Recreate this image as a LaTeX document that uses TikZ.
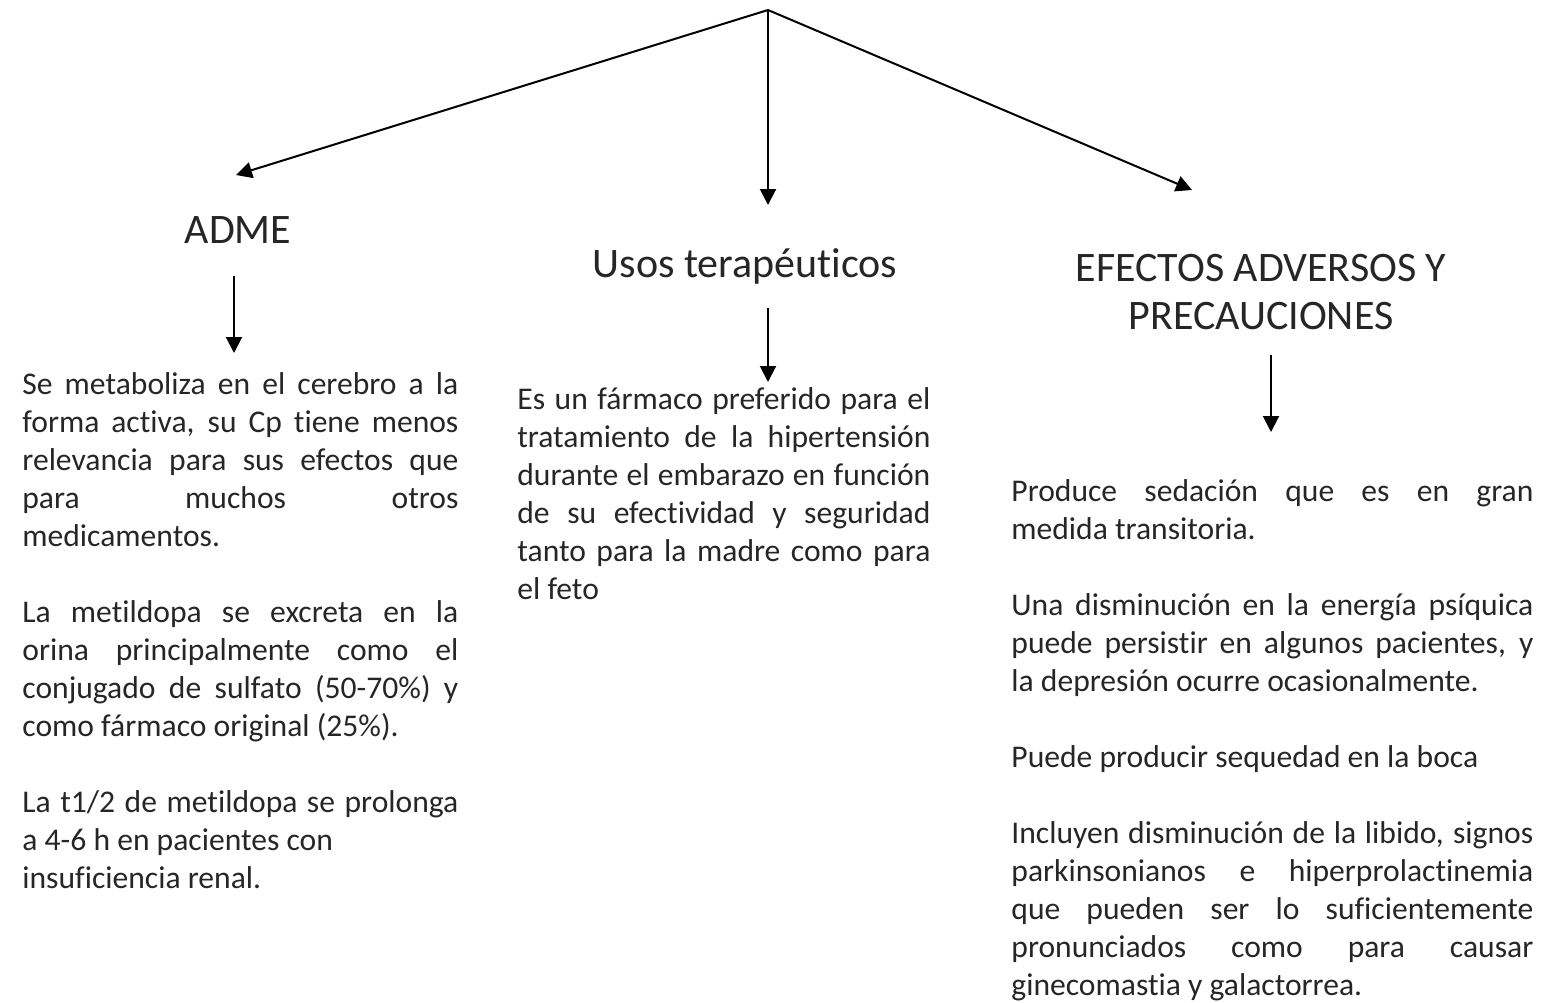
\documentclass[tikz,border=0pt]{standalone}
\usepackage{fontspec}
\setmainfont{Carlito}[Ligatures=NoCommon]
\usetikzlibrary{arrows.meta}
\tikzset{
  heading/.style={font=\fontsize{21}{24}\selectfont, align=center, inner sep=0pt, text=black!85},
  bodytext/.style={font=\fontsize{15.8}{19}\selectfont, align=justify, inner sep=0pt, anchor=north west, text=black!85},
  arr/.style={line width=1pt, -{Triangle[length=8pt,width=8pt]}}
}
\begin{document}
\begin{tikzpicture}[x=0.5pt,y=-0.5pt]
\useasboundingbox (0,0) rectangle (1541,1002);

% branch point and arrow tips
\coordinate (root) at (768,10);
\coordinate (admeTip) at (236,175);
\coordinate (usosTip) at (768,205);
\coordinate (efectosTip) at (1192,190);

% headings
\node[heading] (adme) at (238,230) {ADME};
\node[heading] (usos) at (745,266) {Usos terapéuticos};
\node[heading] (efectos) at (1261,292) {EFECTOS ADVERSOS Y\\PRECAUCIONES};

% text columns
\node[bodytext, text width=218pt] (admeTxt) at (22,372) {%
Se metaboliza en el cerebro a la\linebreak
forma activa, su Cp tiene menos\linebreak
relevancia para sus efectos que\linebreak
para muchos otros\linebreak
medicamentos.\\[19pt]
La metildopa se excreta en la\linebreak
orina principalmente como el\linebreak
conjugado de sulfato (50-70\%) y\linebreak
como fármaco original (25\%).\\[19pt]
La t1/2 de metildopa se prolonga\linebreak
a 4-6 h en pacientes con\\
insuficiencia renal.};

\node[bodytext, text width=206.5pt] (usosTxt) at (517,387) {%
Es un fármaco preferido para el\linebreak
tratamiento de la hipertensión\linebreak
durante el embarazo en función\linebreak
de su efectividad y seguridad\linebreak
tanto para la madre como para\linebreak
el feto};

\node[bodytext, text width=261pt] (efectosTxt) at (1011,479) {%
Produce sedación que es en gran\linebreak
medida transitoria.\\[19pt]
Una disminución en la energía psíquica\linebreak
puede persistir en algunos pacientes, y\linebreak
la depresión ocurre ocasionalmente.\\[19pt]
Puede producir sequedad en la boca\\[19pt]
Incluyen disminución de la libido, signos\linebreak
parkinsonianos e hiperprolactinemia\linebreak
que pueden ser lo suficientemente\linebreak
pronunciados como para causar\linebreak
ginecomastia y galactorrea.};

% connectors
\draw[arr] (root) -- (admeTip);
\draw[arr] (root) -- (usosTip);
\draw[arr] (root) -- (efectosTip);
\draw[arr] ([shift={(-4,32)}]adme.south) -- ([shift={(212,-19)}]admeTxt.north west);
\draw[arr] ([shift={(23,24)}]usos.south) -- ([shift={(251,-5)}]usosTxt.north west);
\draw[arr] ([shift={(10,25)}]efectos.south) -- ([shift={(260,-47)}]efectosTxt.north west);
\end{tikzpicture}
\end{document}
